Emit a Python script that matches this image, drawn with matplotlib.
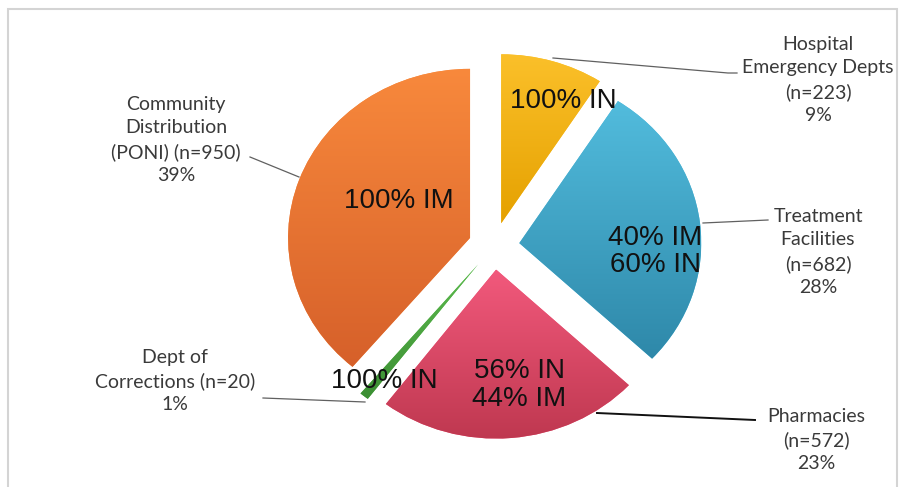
import numpy as np
import matplotlib
matplotlib.use('Agg')
import matplotlib.pyplot as plt
from matplotlib.colors import LinearSegmentedColormap
from matplotlib.lines import Line2D
from matplotlib.patches import Rectangle

# slices, clockwise from 12 o'clock
counts = [223, 682, 572, 20, 950]
outer_labels = [
    'Hospital\nEmergency Depts\n(n=223)\n9%',
    'Treatment\nFacilities\n(n=682)\n28%',
    'Pharmacies\n(n=572)\n23%',
    'Dept of\nCorrections (n=20)\n1%',
    'Community\nDistribution\n(PONI) (n=950)\n39%',
]
inner_labels = ['100% IN', '40% IM\n60% IN', '56% IN\n44% IM', '100% IN', '100% IM']
top_colors = ['#FBC02A', '#52BCDD', '#F2597C', '#5DBB4F', '#F8893C']
bot_colors = ['#E5A100', '#2E88A9', '#BF3850', '#3B8E33', '#D6602A']

W, H = 899, 487
fig = plt.figure(figsize=(W / 100, H / 100), dpi=100)
ax = fig.add_axes([0, 0, 1, 1])


def px(x, y):
    return x / W, 1 - y / H


wedges, _ = ax.pie(counts, explode=[0.14] * 5, startangle=90, counterclock=False,
                   colors=top_colors, wedgeprops=dict(linewidth=0))

# vertical gradient inside every wedge
grad = np.linspace(0, 1, 256).reshape(-1, 1)
for w, top, bot in zip(wedges, top_colors, bot_colors):
    b = w.get_path().get_extents()
    cmap = LinearSegmentedColormap.from_list('g', [bot, top])
    im = ax.imshow(grad, extent=[b.x0, b.x1, b.y0, b.y1], origin='lower',
                   cmap=cmap, aspect='auto', zorder=2)
    im.set_clip_path(w)

# pixel scale: 182 px per unit across, 169 px per unit down, centre at (494, 246)
ax.set_aspect('auto')
ax.set_xlim(-494 / 182, (W - 494) / 182)
ax.set_ylim(-(H - 246) / 169, 246 / 169)
ax.axis('off')

# frame
fig.patches.append(Rectangle(px(8, 495), (897 - 8) / W, (495 - 9) / H,
                             transform=fig.transFigure, fill=False,
                             edgecolor='#D4D4D4', linewidth=1.5))

# inner labels
inner_pos = [(563, 101), (655, 251), (519, 385), (384, 381), (399, 201)]
for txt, (x, y) in zip(inner_labels, inner_pos):
    fig.text(*px(x, y), txt, ha='center', va='center', fontsize=20,
             family='Liberation Sans', color='#111111', linespacing=1.05, zorder=5)

# outer labels
outer_pos = [(818, 80), (818, 252), (816, 440), (175, 381), (176, 140)]
for txt, (x, y) in zip(outer_labels, outer_pos):
    fig.text(*px(x, y), txt, ha='center', va='center', fontsize=14,
             family='Lato', color='#3A3A3A', linespacing=1.45)

# leader lines
leaders = [
    ([553, 728, 737], [58, 73, 73], '#606060', 0.9),
    ([703, 768], [223, 220], '#606060', 0.9),
    ([597, 755], [413, 420], '#111111', 1.4),
    ([263, 365], [398, 402], '#606060', 0.9),
    ([250, 299], [157, 177], '#606060', 0.9),
]
for xs, ys, c, lw in leaders:
    fig.lines.append(Line2D([x / W for x in xs], [1 - y / H for y in ys],
                            transform=fig.transFigure, color=c, linewidth=lw))

fig.savefig('out.png', dpi=100)
